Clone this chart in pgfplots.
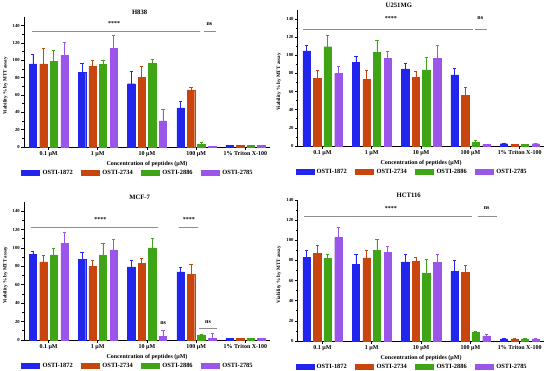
\documentclass[border=0pt]{standalone}
\usepackage{fontspec}
\setmainfont{Liberation Serif}
\usepackage{pgfplots}
\usepackage{pgfplotstable}
\pgfplotsset{compat=1.18}
\definecolor{cA}{HTML}{2226EC}
\definecolor{cB}{HTML}{C8460E}
\definecolor{cC}{HTML}{3FA516}
\definecolor{cD}{HTML}{9B55E8}
\definecolor{sig}{HTML}{8C8C8C}
\newcommand\fs[1]{\fontsize{#1}{#1}\selectfont\bfseries}

\pgfplotstableread{
x b1 e1 b2 e2 b3 e3 b4 e4
0 96 11 96 17.5 99 12.5 106 15
1 86 11 93 7 95 5.5 114 14.5
2 73 14 80.5 12.5 96.5 5 30 13
3 45 8 66 2.5 3.5 1.5 1 0.3
4 2 0.3 2 0.3 2 0.3 2 0.3
}\Hdata
\pgfplotstableread{
x b1 e1 b2 e2 b3 e3 b4 e4
0 105 6 74.5 9.5 109.5 13 80 7.5
1 92 6.5 73.5 9.5 103.5 12.5 96.5 7.5
2 85 6 75.5 6.5 84 14 96.5 14.5
3 78.5 7 56 8.5 3.7 2.3 1.5 0.3
4 2.5 0.3 2 0.3 2 0.3 2.5 0.3
}\Udata
\pgfplotstableread{
x b1 e1 b2 e2 b3 e3 b4 e4
0 93 3.6 85 7 92.5 7.5 105 11.5
1 88 7 80 7 92 13.5 98 11
2 79.5 7.5 83 5.5 100 11 4 6.5
3 74 5 71 11 5.5 0.5 1.5 5.5
4 2 0.3 2 0.3 2 0.3 2 0.3
}\Mdata
\pgfplotstableread{
x b1 e1 b2 e2 b3 e3 b4 e4
0 83 7 87 8 82 4 103 10
1 76 10 82.5 8 90 11 88 5.5
2 78.5 7.5 79 4 67.5 14 78 8.5
3 69 11 68.5 7 8.5 1.5 5 1.5
4 2 0.3 2 0.3 2 0.3 2 0.3
}\Cdata

\pgfplotsset{
 every axis title/.style={at={(0.5,1)}, anchor=center, yshift=3.5pt, font=\fs{5}},
 panel/.style={
  scale only axis, width=184.5pt, xmin=-0.5, xmax=4.5, ymin=0, ymax=150,
  axis x line*=bottom, axis y line*=left,
  axis line style={line width=0.6pt, -},
  xtick={0,1,2,3,4},
  xticklabels={0.1 µM,1 µM,10 µM,100 µM,1\% Triton X-100},
  ytick={0,20,...,140}, minor y tick num=1,
  tick align=outside, major tick length=2pt, minor tick length=1.2pt,
  tick style={line width=0.5pt, black},
  x tick label style={font=\fs{4.5}, inner sep=1pt},
  y tick label style={font=\fs{3.5}, inner sep=1pt},
  /pgf/number format/assume math mode=true,
  xlabel={Concentration of peptides (µM)},
  xlabel style={font=\fs{4.5}, at={(axis description cs:0.5,0)}, anchor=center, yshift=-12.5pt},
  ylabel={Viability \% by MTT assay},
  ylabel style={font=\fs{3.8}, at={(axis description cs:-0.076,0.47)}, anchor=center},
  legend columns=4,
  legend style={draw=none, fill=none, at={(0.465,0)}, anchor=center, yshift=-19.5pt,
    font=\fs{4.8}, inner sep=0pt, /tikz/every even column/.append style={column sep=4.5pt}},
  legend cell align=left,
  clip=false,
 },
}
\newcommand\onebar[5]{% table, col, err, color, offset
 \addplot[ybar, bar width=0.15, bar shift=0pt, fill=#4, draw=#4, line width=0.3pt,
   legend image code/.code={\fill[#4] (0pt,-1.9pt) rectangle (13.5pt,1.9pt);},
   /pgfplots/error bars/y dir=plus, /pgfplots/error bars/y explicit,
   /pgfplots/error bars/error bar style={#4, line width=0.5pt},
   /pgfplots/error bars/error mark options={rotate=90, #4, mark size=1.2pt, line width=0.5pt}]
   table[x expr=\thisrow{x}+#5, y=#2, y error=#3] {#1};}
\newcommand\bars[1]{%
 \onebar{#1}{b1}{e1}{cA}{-0.32}
 \onebar{#1}{b2}{e2}{cB}{-0.105}
 \onebar{#1}{b3}{e3}{cC}{0.105}
 \onebar{#1}{b4}{e4}{cD}{0.325}
 \legend{OSTI-1872,OSTI-2734,OSTI-2886,OSTI-2785}}
\newcommand\sigline[3]{\draw[sig, line width=0.5pt] (axis cs:#1,#3) -- (axis cs:#2,#3);}
\newcommand\sigtext[3]{\node[font=\fs{4.5}, inner sep=0pt] at (axis cs:#1,#2) {#3};}

\begin{document}
\begin{tikzpicture}
\path[use as bounding box] (0,0) rectangle (412.5pt,278.25pt);

% H838
\begin{axis}[panel, at={(18pt,168pt)}, anchor=south west, height=97.5pt,
  title={H838}, title style={at={(0.47,1)}}]
\bars{\Hdata}
\sigline{-0.34}{3.07}{133}
\sigtext{1.33}{142}{****}
\sigline{3.15}{3.41}{133}
\sigtext{3.27}{142}{ns}
\end{axis}

% U251MG
\begin{axis}[panel, at={(223.3pt,168.75pt)}, anchor=south west, width=185pt, height=102pt,
  title={U251MG}, title style={at={(0.41,1)}}]
\bars{\Udata}
\sigline{-0.4}{3.05}{129}
\sigtext{1.39}{141}{****}
\sigline{3.1}{3.33}{129}
\sigtext{3.2}{141}{ns}
\end{axis}

% MCF-7
\begin{axis}[panel, at={(18pt,23.25pt)}, anchor=south west, height=103.5pt,
  title={MCF-7}, title style={at={(0.47,1)}}]
\bars{\Mdata}
\sigline{-0.36}{2.22}{123}
\sigtext{1.05}{131}{****}
\sigline{2.65}{3.04}{123}
\sigtext{2.85}{131}{****}
\sigtext{2.33}{18.5}{ns}
\sigline{3.06}{3.42}{13}
\sigtext{3.24}{19}{ns}
\end{axis}

% HCT116
\begin{axis}[panel, at={(223.3pt,22.5pt)}, anchor=south west, width=185pt, height=105.75pt,
  ymax=140, title={HCT116}, title style={at={(0.45,1)}}]
\bars{\Cdata}
\sigline{-0.38}{3.03}{124}
\sigtext{1.39}{132}{****}
\sigline{3.15}{3.54}{124}
\sigtext{3.33}{132}{ns}
\end{axis}
\end{tikzpicture}
\end{document}
